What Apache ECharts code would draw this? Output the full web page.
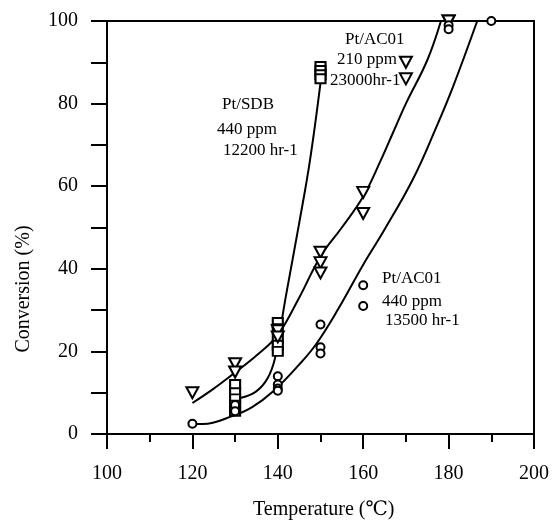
<!DOCTYPE html>
<html>
<head>
<meta charset="utf-8">
<script src="https://cdn.jsdelivr.net/npm/echarts@6/dist/echarts.min.js"></script>
<style>
  html, body { margin: 0; padding: 0; background: #fff; }
  #chart { width: 559px; height: 525px; }
</style>
</head>
<body>
<div id="chart"></div>
<script>
// 测量点 [温度, 转化率]
const sdbPoints = [
  [130, 12], [130, 10], [130, 8.5], [130, 7], [130, 5.5],
  [140, 27], [140, 25.5], [140, 23], [140, 21.5], [140, 20],
  [150, 89], [150, 88], [150, 87], [150, 86]
]
const ac210Points = [
  [120, 10], [130, 17], [130, 15], [140, 25], [140, 23.5],
  [150, 44], [150, 41.5], [150, 39], [160, 58.5], [160, 53.4],
  [170, 90], [170, 86], [180, 100], [180, 100]
]
const ac440Points = [
  [120, 2.5], [130, 7], [130, 5.5], [140, 14], [140, 12], [140, 11], [140, 10.5],
  [150, 26.5], [150, 21], [150, 19.5], [160, 36], [160, 31],
  [180, 99], [180, 98], [190, 100]
]

// 拟合曲线
const sdbCurve = [
  [130, 8.5], [134, 9.7], [137, 12.5], [139, 17], [140.5, 25], [142, 34],
  [145, 51], [147.5, 66], [150, 85]
]
const ac210Curve = [
  [120, 7.5], [125, 11], [129.5, 14.5], [135, 19], [140, 24], [145, 33],
  [150, 43], [155, 50], [160, 57.5], [164, 66], [167, 73],
  [170, 80], [175, 90.5], [178.2, 100]
]
const ac440Curve = [
  [120, 2.4], [122.5, 2.4], [129.5, 4.4], [134, 6.5], [139, 10.4],
  [145, 16.8], [149, 21.8], [154, 30], [160, 41], [165, 49.5],
  [171.7, 61.8], [177, 74], [181, 84], [186.7, 100]
]

const xTicks = [100, 120, 140, 160, 180, 200]
const yTicks = [0, 20, 40, 60, 80, 100]

const font = '"Liberation Serif", "DejaVu Serif", serif'
const black = '#000'

let chart = echarts.init(document.getElementById('chart'))

let curve = data => ({
  type: 'line',
  data,
  smooth: 0.4,
  showSymbol: false,
  silent: true,
  lineStyle: { color: black, width: 2 },
  z: 2
})
let points = (data, symbol, size, rotate) => ({
  type: 'scatter',
  data,
  symbol,
  symbolSize: size,
  symbolRotate: rotate || 0,
  clip: false,
  itemStyle: { color: '#fff', borderColor: black, borderWidth: 2, opacity: 1 },
  z: 3
})

let text = (left, top, str) => ({
  type: 'text',
  left, top,
  style: { text: str, font: '17px ' + font, fill: black }
})

chart.setOption({
  animation: false,
  grid: {
    left: 107, right: 25, top: 21, bottom: 91,
    show: true, borderColor: black, borderWidth: 2, backgroundColor: 'transparent'
  },
  xAxis: {
    type: 'value',
    min: 100, max: 200, interval: 20,
    axisLine: { onZero: false, lineStyle: { color: black, width: 2 } },
    axisTick: { inside: false, length: 15, lineStyle: { color: black, width: 2 } },
    minorTick: { show: true, splitNumber: 2, length: 8, lineStyle: { color: black, width: 2 } },
    splitLine: { show: false },
    axisLabel: {
      margin: 30, color: black, fontFamily: font, fontSize: 20,
      formatter: v => xTicks.includes(v) ? String(v) : ''
    }
  },
  yAxis: {
    type: 'value',
    min: 0, max: 100, interval: 10,
    axisLine: { onZero: false, lineStyle: { color: black, width: 2 } },
    axisTick: { inside: false, length: 16, lineStyle: { color: black, width: 2 } },
    splitLine: { show: false },
    axisLabel: {
      margin: 29, color: black, fontFamily: font, fontSize: 20,
      formatter: v => yTicks.includes(v) ? String(v) : ''
    }
  },
  graphic: [
    {
      type: 'text', left: 253, top: 500,
      style: { text: 'Temperature (℃)', font: '20px ' + font, fill: black }
    },
    {
      type: 'text', x: 14, y: 289, rotation: Math.PI / 2,
      style: { text: 'Conversion (%)', font: '20px ' + font, fill: black, align: 'center', verticalAlign: 'top' }
    },
    text(222, 96, 'Pt/SDB'),
    text(217, 121, '440 ppm'),
    text(223, 142, '12200 hr-1'),
    text(345, 31, 'Pt/AC01'),
    text(337, 51, '210 ppm'),
    text(330, 72, '23000hr-1'),
    text(382, 270, 'Pt/AC01'),
    text(382, 293, '440 ppm'),
    text(385, 312, '13500 hr-1')
  ],
  series: [
    curve(sdbCurve),
    curve(ac210Curve),
    curve(ac440Curve),
    points(sdbPoints, 'rect', [10, 9]),
    points(ac210Points, 'triangle', [12, 11], 180),
    points(ac440Points, 'circle', 8)
  ]
})
</script>
</body>
</html>
